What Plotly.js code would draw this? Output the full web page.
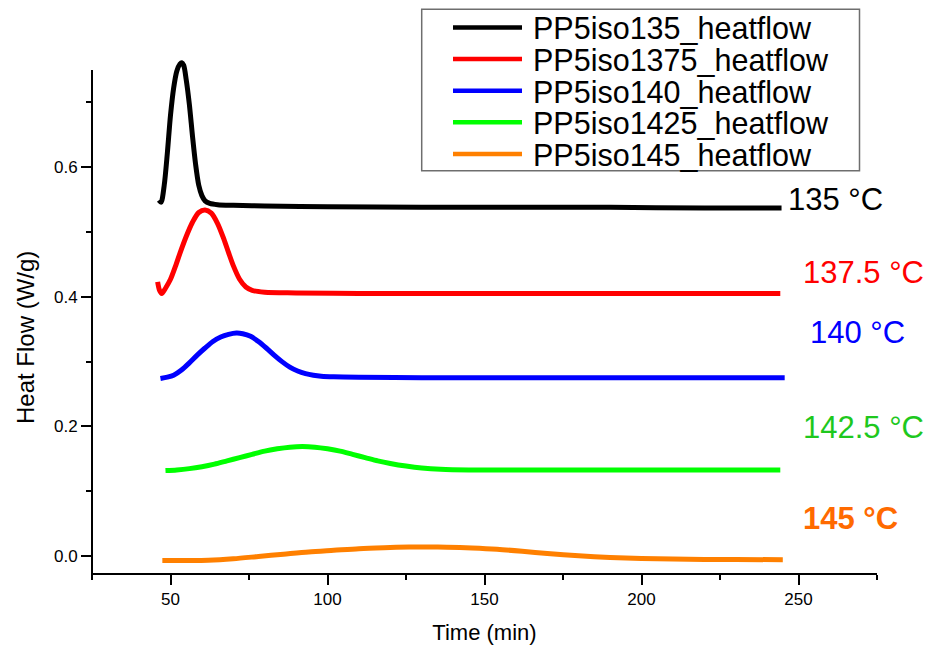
<!DOCTYPE html>
<html>
<head>
<meta charset="utf-8">
<script src="https://cdn.plot.ly/plotly-3.0.1.min.js"></script>
<style>html,body{margin:0;padding:0;background:#fff;}#chart{width:932px;height:652px;}</style>
</head>
<body>
<div id="chart"></div>
<script>
// ---- Data ----
const seriesNames = ["PP5iso135_heatflow", "PP5iso1375_heatflow", "PP5iso140_heatflow", "PP5iso1425_heatflow", "PP5iso145_heatflow"];
const seriesColors = ["#000000", "#ff0000", "#0000ff", "#00ff00", "#ff8000"];

const t135 = [46.3, 47.0, 48.0, 49.0, 50.0, 51.0, 52.0, 53.0, 53.6, 54.2, 55.0, 56.0, 57.0, 58.0, 59.0, 60.0, 61.0, 62.5, 65, 70, 80, 100, 130, 160, 190, 220, 244.6];
const v135 = [0.549, 0.546, 0.572, 0.622, 0.680, 0.722, 0.748, 0.759, 0.761, 0.757, 0.735, 0.697, 0.648, 0.604, 0.572, 0.556, 0.548, 0.544, 0.542, 0.541, 0.540, 0.539, 0.538, 0.538, 0.538, 0.537, 0.537];

const t1375 = [45.9, 46.5, 47.2, 48.5, 50, 51.5, 53, 55, 57, 59, 61, 63, 65, 67, 68.5, 70, 72, 74, 76, 80, 90, 110, 150, 200, 244.2];
const v1375 = [0.423, 0.410, 0.405, 0.414, 0.427, 0.446, 0.467, 0.493, 0.515, 0.530, 0.534, 0.529, 0.513, 0.489, 0.468, 0.448, 0.427, 0.415, 0.410, 0.407, 0.406, 0.405, 0.405, 0.405, 0.405];

const t140 = [46.8, 49, 51, 53.5, 56, 58.5, 61, 63.5, 66, 68.5, 71, 73, 75.5, 78, 80.5, 83, 85.5, 88, 90.5, 93, 95.5, 98, 102, 110, 130, 160, 200, 245.6];
const v140 = [0.274, 0.276, 0.279, 0.287, 0.298, 0.310, 0.321, 0.331, 0.338, 0.342, 0.344, 0.343, 0.339, 0.331, 0.321, 0.310, 0.300, 0.2915, 0.2855, 0.2815, 0.279, 0.2775, 0.2765, 0.2758, 0.2752, 0.275, 0.275, 0.275];

const t1425 = [48.4, 52, 56, 60, 64, 68, 72, 76, 80, 84, 88, 92, 96, 100, 104, 108, 112, 116, 120, 125, 130, 136, 145, 160, 190, 220, 244.2];
const v1425 = [0.132, 0.133, 0.135, 0.138, 0.142, 0.147, 0.152, 0.157, 0.162, 0.1655, 0.168, 0.169, 0.168, 0.1655, 0.162, 0.157, 0.152, 0.147, 0.143, 0.139, 0.136, 0.134, 0.133, 0.133, 0.133, 0.133, 0.133];

const t145 = [47.4, 55, 62, 70, 78, 86, 94, 102, 110, 118, 126, 132, 138, 146, 154, 162, 170, 180, 190, 200, 210, 220, 230, 245];
const v145 = [-0.0066, -0.0066, -0.0062, -0.004, -0.0005, 0.003, 0.0065, 0.009, 0.0115, 0.013, 0.014, 0.0142, 0.0138, 0.0125, 0.0105, 0.0075, 0.004, 0.0005, -0.002, -0.0037, -0.0045, -0.005, -0.0052, -0.0055];

const tempLabels = ["135 °C", "137.5 °C", "140 °C", "142.5 °C", "145 °C"];
const tempLabelX = [261.8, 270.7, 268.7, 270.7, 266.4];
const tempLabelY = [0.550, 0.438, 0.3455, 0.199, 0.0577];
const tempLabelColors = ["#000000", "#ff0000", "#0000ff", "#1ec81e", "#ff6a00"];

const xTitle = "Time (min)";
const yTitle = "Heat Flow (W/g)";

// ---- Build traces ----
const xs = [t135, t1375, t140, t1425, t145];
const ys = [v135, v1375, v140, v1425, v145];
const FONT = "Liberation Sans, Arial, sans-serif";

const traces = xs.map((x, i) => ({
  x: x, y: ys[i], type: "scatter", mode: "lines", name: seriesNames[i],
  line: {color: seriesColors[i], width: 5, shape: "spline", smoothing: 0.8},
  showlegend: false
}));

// plot area in pixels (top extended so the tallest peak is not clipped)
const PL = 92, PR = 877, PT = 53, PB = 573;
const AXIS_TOP = 70; // where the drawn y-axis line ends
const pxX = p => (p - PL) / (PR - PL);
const pxY = p => (PB - p) / (PB - PT);

const annotations = tempLabels.map((txt, i) => ({
  x: tempLabelX[i], y: tempLabelY[i], xref: "x", yref: "y",
  text: i === 4 ? "<b>" + txt + "</b>" : txt, showarrow: false,
  xanchor: "center", yanchor: "middle",
  font: {family: FONT, size: 31, color: tempLabelColors[i]}
}));

// y axis title (placed to match the reference position)
annotations.push({
  x: pxX(25), y: pxY(338), xref: "paper", yref: "paper",
  text: yTitle, textangle: -90, showarrow: false,
  xanchor: "center", yanchor: "middle",
  font: {family: FONT, size: 24, color: "#000000"}
});

// y axis line (ends at 0.75 like the reference)
const shapes = [{
  type: "line", xref: "paper", yref: "paper",
  x0: 0, x1: 0, y0: -0.004, y1: pxY(AXIS_TOP),
  line: {color: "#000000", width: 2}
}];

// manual legend (box, lines, labels)
shapes.push({
  type: "rect", xref: "paper", yref: "paper",
  x0: pxX(421.7), x1: pxX(859.5), y0: pxY(170.7), y1: pxY(9.3),
  line: {color: "#6e6e6e", width: 1.5}, fillcolor: "#ffffff", layer: "below"
});
seriesNames.forEach((nm, i) => {
  const rowY = 27.5 + i * 31.6;
  shapes.push({
    type: "line", xref: "paper", yref: "paper",
    x0: pxX(453), x1: pxX(522), y0: pxY(rowY), y1: pxY(rowY),
    line: {color: seriesColors[i], width: 4.5}
  });
  annotations.push({
    x: pxX(531), y: pxY(rowY + 1), xref: "paper", yref: "paper",
    text: nm, showarrow: false, xanchor: "left", yanchor: "middle",
    font: {family: FONT, size: 30.5, color: "#000000"}
  });
});

const layout = {
  width: 932, height: 652,
  margin: {l: PL, r: 932 - PR, t: PT, b: 652 - PB, pad: 0},
  paper_bgcolor: "#ffffff", plot_bgcolor: "#ffffff",
  showlegend: false,
  font: {family: FONT, color: "#000000", size: 17},
  xaxis: {
    range: [25, 275], showgrid: false, zeroline: false,
    showline: true, linecolor: "#000000", linewidth: 2,
    ticks: "outside", ticklen: 10, tickwidth: 2, tickcolor: "#000000",
    tick0: 0, dtick: 50,
    minor: {dtick: 25, tick0: 0, ticks: "outside", ticklen: 5, tickwidth: 2, tickcolor: "#000000"},
    tickfont: {family: FONT, size: 17, color: "#000000"},
    title: {text: xTitle, font: {family: FONT, size: 22, color: "#000000"}, standoff: 16}
  },
  yaxis: {
    range: [-0.026, 0.776], showgrid: false, zeroline: false,
    showline: false,
    ticks: "outside", ticklen: 10, tickwidth: 2, tickcolor: "#000000",
    tick0: 0, dtick: 0.2, tickformat: ".1f",
    minor: {dtick: 0.1, tick0: 0, ticks: "outside", ticklen: 5, tickwidth: 2, tickcolor: "#000000"},
    tickfont: {family: FONT, size: 17, color: "#000000"}
  },
  annotations: annotations,
  shapes: shapes
};

Plotly.newPlot("chart", traces, layout, {displayModeBar: false, staticPlot: true});
</script>
</body>
</html>
